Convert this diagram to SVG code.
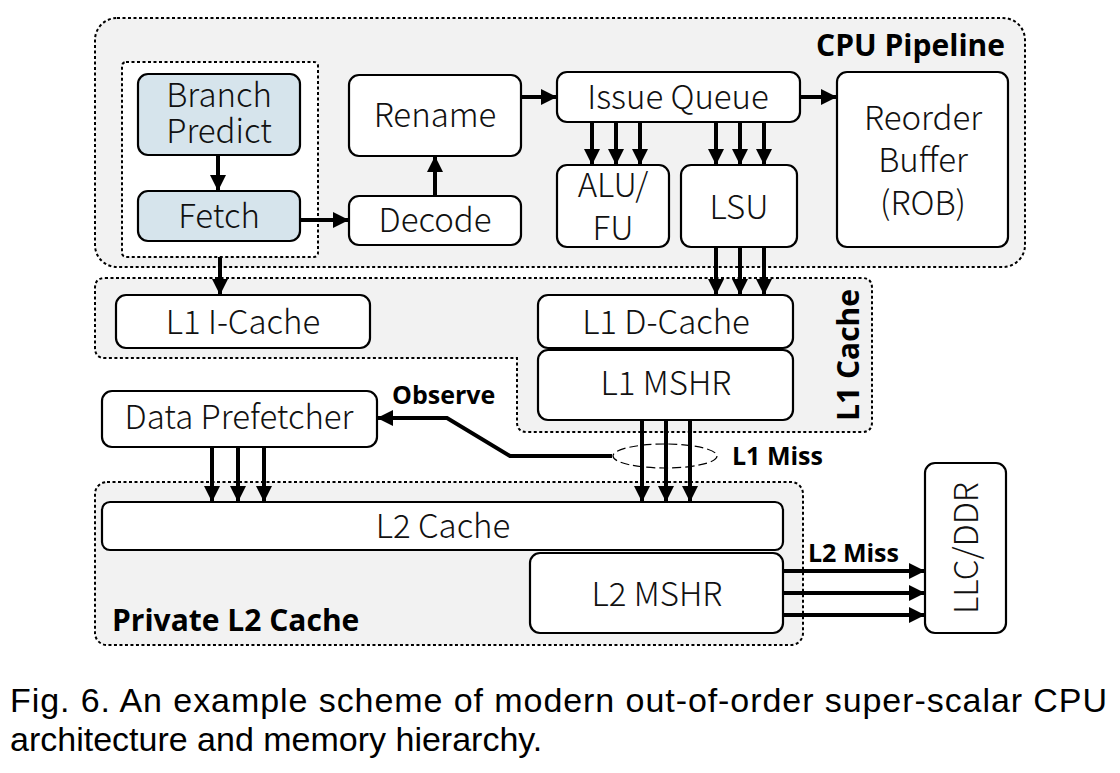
<svg xmlns="http://www.w3.org/2000/svg" width="1120" height="773" viewBox="0 0 1120 773">
<defs>
<marker id="ah" markerUnits="userSpaceOnUse" markerWidth="16" markerHeight="16" viewBox="0 0 16 16" refX="15" refY="8" orient="auto">
<path d="M0,0 L16,8 L0,16 Z" fill="#000"/>
</marker>
</defs>
<style>
.region{fill:#f2f2f2;stroke:#000;stroke-width:2;stroke-dasharray:3 2.5}
.inner{fill:#fff;stroke:#000;stroke-width:2;stroke-dasharray:3 2.5}
.box{fill:#fff;stroke:#000;stroke-width:2.2}
.blue{fill:#d6e4ec;stroke:#000;stroke-width:2.2}
.t{font-family:"Noto Sans CJK SC","Noto Sans",sans-serif;font-weight:300;font-size:33px;fill:#111;text-anchor:middle}
.b{font-family:"Open Sans","Noto Sans",sans-serif;font-weight:bold;fill:#000}
.arr{stroke:#000;stroke-width:4;fill:none;marker-end:url(#ah)}
.cap{font-family:"Liberation Sans",Arial,sans-serif;font-size:34px;fill:#000}
</style>
<rect width="1120" height="773" fill="#fff"/>

<g id="cpu-pipeline">
<rect class="region" x="95" y="18" width="930" height="249" rx="22"/>
<text class="b" x="1005" y="56" font-size="30" text-anchor="end">CPU Pipeline</text>
</g>
<g id="l1-cache">
<path class="region" d="M105,278 L862,278 Q872,278 872,288 L872,422 Q872,432 862,432 L527,432 Q517,432 517,422 L517,358 L105,358 Q95,358 95,348 L95,288 Q95,278 105,278 Z"/>
<text class="b" x="0" y="0" font-size="30" text-anchor="middle" transform="translate(859,355) rotate(-90)">L1 Cache</text>
</g>
<g id="private-l2">
<rect class="region" x="95" y="482" width="708" height="163" rx="12"/>
<text class="b" x="112" y="631" font-size="30">Private L2 Cache</text>
</g>
<g id="frontend">
<rect class="inner" x="122" y="62" width="196" height="195" rx="4"/>
</g>

<g id="branch-predict">
<rect class="blue" x="138" y="74" width="162" height="81" rx="10"/>
<text class="t" x="219" y="107">Branch</text>
<text class="t" x="219" y="143">Predict</text>
</g>
<g id="fetch">
<rect class="blue" x="138" y="191" width="162" height="50" rx="10"/>
<text class="t" x="219" y="228">Fetch</text>
</g>
<g id="rename">
<rect class="box" x="349" y="75" width="172" height="81" rx="10"/>
<text class="t" x="435" y="127">Rename</text>
</g>
<g id="decode">
<rect class="box" x="349" y="196" width="172" height="49" rx="10"/>
<text class="t" x="435" y="232">Decode</text>
</g>
<g id="issue-queue">
<rect class="box" x="557" y="72" width="243" height="50" rx="10"/>
<text class="t" x="678" y="109">Issue Queue</text>
</g>
<g id="alu-fu">
<rect class="box" x="557" y="165" width="112" height="82" rx="10"/>
<text class="t" x="613" y="197">ALU/</text>
<text class="t" x="613" y="240">FU</text>
</g>
<g id="lsu">
<rect class="box" x="681" y="165" width="116" height="82" rx="10"/>
<text class="t" x="739" y="219">LSU</text>
</g>
<g id="rob">
<rect class="box" x="837" y="72" width="171" height="175" rx="10"/>
<text class="t" x="923" y="130">Reorder</text>
<text class="t" x="923" y="172">Buffer</text>
<text class="t" x="923" y="215">(ROB)</text>
</g>
<g id="l1-icache">
<rect class="box" x="116" y="295" width="254" height="53" rx="10"/>
<text class="t" x="243" y="334">L1 I-Cache</text>
</g>
<g id="l1-dcache">
<rect class="box" x="538" y="295" width="255" height="53" rx="10"/>
<text class="t" x="666" y="334">L1 D-Cache</text>
</g>
<g id="l1-mshr">
<rect class="box" x="538" y="350" width="255" height="70" rx="10"/>
<text class="t" x="666" y="395">L1 MSHR</text>
</g>
<g id="data-prefetcher">
<rect class="box" x="102" y="391" width="275" height="56" rx="10"/>
<text class="t" x="239" y="429">Data Prefetcher</text>
</g>
<g id="l2-cache">
<rect class="box" x="102" y="502" width="681" height="48" rx="8"/>
<text class="t" x="443" y="538">L2 Cache</text>
</g>
<g id="l2-mshr">
<rect class="box" x="530" y="553" width="253" height="80" rx="10"/>
<text class="t" x="657" y="606">L2 MSHR</text>
</g>
<g id="llc-ddr">
<rect class="box" x="925" y="463" width="81" height="170" rx="10"/>
<text class="t" x="0" y="0" transform="translate(978,548) rotate(-90)">LLC/DDR</text>
</g>

<g id="connectors">
<line class="arr" x1="218" y1="155" x2="218" y2="190"/>
<line class="arr" x1="300" y1="220" x2="348" y2="220"/>
<line class="arr" x1="435" y1="196" x2="435" y2="157"/>
<line class="arr" x1="521" y1="97" x2="556" y2="97"/>
<line class="arr" x1="800" y1="97" x2="836" y2="97"/>
<line class="arr" x1="592" y1="122" x2="592" y2="164"/>
<line class="arr" x1="616" y1="122" x2="616" y2="164"/>
<line class="arr" x1="640" y1="122" x2="640" y2="164"/>
<line class="arr" x1="716" y1="122" x2="716" y2="164"/>
<line class="arr" x1="740" y1="122" x2="740" y2="164"/>
<line class="arr" x1="764" y1="122" x2="764" y2="164"/>
<line class="arr" x1="716" y1="247" x2="716" y2="294"/>
<line class="arr" x1="740" y1="247" x2="740" y2="294"/>
<line class="arr" x1="764" y1="247" x2="764" y2="294"/>
<line class="arr" x1="220" y1="257" x2="220" y2="294"/>
<line class="arr" x1="642" y1="420" x2="642" y2="501"/>
<line class="arr" x1="666" y1="420" x2="666" y2="501"/>
<line class="arr" x1="690" y1="420" x2="690" y2="501"/>
<line class="arr" x1="212" y1="447" x2="212" y2="501"/>
<line class="arr" x1="238" y1="447" x2="238" y2="501"/>
<line class="arr" x1="264" y1="447" x2="264" y2="501"/>
<line class="arr" x1="783" y1="571" x2="924" y2="571"/>
<line class="arr" x1="783" y1="593" x2="924" y2="593"/>
<line class="arr" x1="783" y1="615" x2="924" y2="615"/>
<polyline class="arr" points="612,456 510,456 447,418 378,418"/>
<ellipse cx="665" cy="456" rx="52" ry="12" fill="none" stroke="#000" stroke-width="1.2" stroke-dasharray="9 4"/>
<text class="b" x="392" y="404" font-size="25">Observe</text>
<text class="b" x="732" y="465" font-size="25">L1 Miss</text>
<text class="b" x="808" y="562" font-size="25">L2 Miss</text>
</g>

<g id="caption">
<text class="cap" x="10" y="712" textLength="1097" lengthAdjust="spacing">Fig. 6. An example scheme of modern out-of-order super-scalar CPU</text>
<text class="cap" x="10" y="751">architecture and memory hierarchy.</text>
</g>
</svg>
